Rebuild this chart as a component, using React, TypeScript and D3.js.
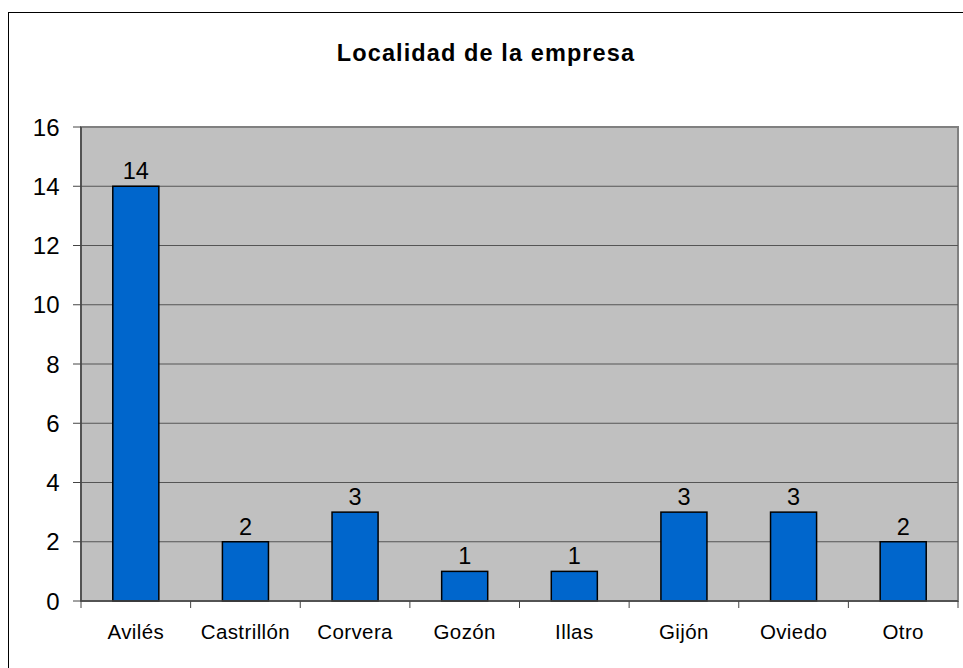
import React from "react";
import * as d3 from "d3";

const categories = ["Avilés", "Castrillón", "Corvera", "Gozón", "Illas", "Gijón", "Oviedo", "Otro"];
const values = [14, 2, 3, 1, 1, 3, 3, 2];
const yTicks = [0, 2, 4, 6, 8, 10, 12, 14, 16];
const title = "Localidad de la empresa";

const W = 963;
const H = 668;
const plot = { left: 81, top: 127, right: 958, bottom: 601 };
const font = "'Liberation Sans', Arial, sans-serif";

export default function App() {
  const x = d3
    .scaleBand<string>()
    .domain(categories)
    .range([plot.left, plot.right])
    .paddingInner(0.58)
    .paddingOuter(0.29);
  const band = d3.scaleBand<string>().domain(categories).range([plot.left, plot.right]);
  const y = d3.scaleLinear().domain([0, 16]).range([plot.bottom, plot.top]);

  return (
    <svg
      width={W}
      height={H}
      style={{ position: "absolute", left: 0, top: 0, background: "#fff" }}
      fontFamily={font}
    >
      <rect x={8.5} y={12.5} width={W} height={H} fill="#fff" stroke="#000" strokeWidth={1} />
      <text
        x={486}
        y={61}
        textAnchor="middle"
        fontSize={23.5}
        fontWeight="bold"
        letterSpacing={1.1}
      >
        {title}
      </text>
      <rect
        x={plot.left}
        y={plot.top}
        width={plot.right - plot.left}
        height={plot.bottom - plot.top}
        fill="#C0C0C0"
        stroke="#808080"
        strokeWidth={2}
      />
      {yTicks.map((t) => (
        <g key={t}>
          {t > 0 && t < 16 && (
            <line x1={plot.left} x2={plot.right} y1={y(t)} y2={y(t)} stroke="#555" strokeWidth={1} />
          )}
          <line x1={plot.left - 8} x2={plot.left} y1={y(t)} y2={y(t)} stroke="#444" strokeWidth={1} />
          <text x={60} y={y(t)} dy="0.36em" textAnchor="end" fontSize={24} letterSpacing={0.3}>
            {t}
          </text>
        </g>
      ))}
      <line x1={plot.left} x2={plot.left} y1={plot.top} y2={plot.bottom} stroke="#444" strokeWidth={1.5} />
      {categories.map((c, i) => (
        <g key={c}>
          <rect
            x={x(c)}
            y={y(values[i])}
            width={x.bandwidth()}
            height={y(0) - y(values[i])}
            fill="#0066CC"
            stroke="#000"
            strokeWidth={1.5}
          />
          <text
            x={(x(c) as number) + x.bandwidth() / 2}
            y={y(values[i]) - 7}
            textAnchor="middle"
            fontSize={23.5}
          >
            {values[i]}
          </text>
          <text
            x={(band(c) as number) + band.bandwidth() / 2}
            y={639}
            textAnchor="middle"
            fontSize={20.5}
            letterSpacing={0.4}
          >
            {c}
          </text>
        </g>
      ))}
      {categories.concat([""]).map((c, i) => {
        const xv = plot.left + i * band.bandwidth();
        return <line key={i} x1={xv} x2={xv} y1={plot.bottom} y2={plot.bottom + 7} stroke="#444" strokeWidth={1} />;
      })}
      <line x1={plot.left} x2={plot.right} y1={plot.bottom} y2={plot.bottom} stroke="#444" strokeWidth={1.5} />
    </svg>
  );
}
